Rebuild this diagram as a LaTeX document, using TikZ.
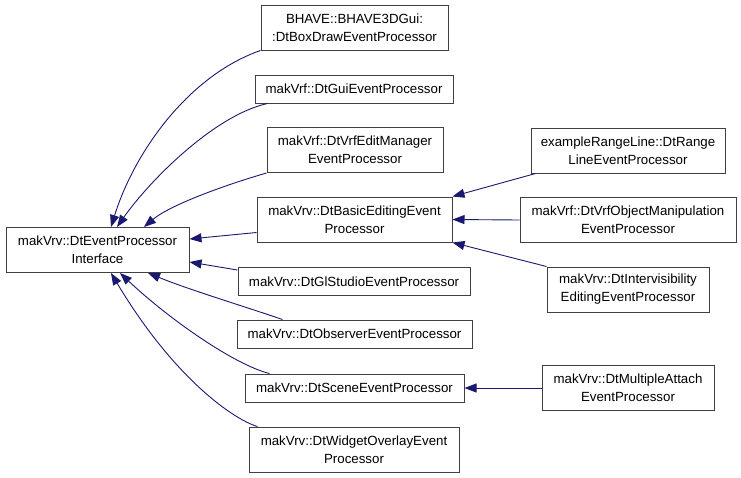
\documentclass[tikz,border=0pt]{standalone}
\usepackage{fontspec}
\setmainfont{Liberation Sans}
\usepackage{tikz}
\usetikzlibrary{arrows.meta, positioning}
\definecolor{edgeblue}{RGB}{25,25,112}

\begin{document}
\begin{tikzpicture}[
    x=1pt, y=-1pt,
    cls/.style={rectangle, draw=black!75, line width=1pt, fill=white, align=center,
                inner sep=0pt, font=\fontsize{13.3}{18}\selectfont},
    one/.style={cls, minimum height=28pt},  % 单行类框
    two/.style={cls, minimum height=45pt},  % 双行类框
    inherit/.style={-{Triangle[length=12pt, width=9pt]}, edgeblue, line width=0.9pt}
]
\useasboundingbox (0,0) rectangle (741,477);

% 基类
\node[two, minimum width=183pt] (iface) at (97.5,250) {makVrv::DtEventProcessor\\Interface};

% 第一层派生类
\node[two, minimum width=187pt] (bhave) at (354.5,27.5) {BHAVE::BHAVE3DGui:\\:DtBoxDrawEventProcessor};
\node[one, minimum width=198pt] (gui) at (354,89) {makVrf::DtGuiEventProcessor};
\node[two, minimum width=176pt] (vrfedit) at (355,150) {makVrf::DtVrfEditManager\\EventProcessor};
\node[two, minimum width=195pt] (basic) at (354.5,219.5) {makVrv::DtBasicEditingEvent\\Processor};
\node[one, minimum width=232pt] (glstudio) at (354,281.5) {makVrv::DtGlStudioEventProcessor};
\node[one, minimum width=235pt] (observer) at (354.5,334) {makVrv::DtObserverEventProcessor};
\node[one, minimum width=219pt] (scene) at (354.5,388) {makVrv::DtSceneEventProcessor};
\node[two, minimum width=210pt] (widget) at (354,449.5) {makVrv::DtWidgetOverlayEvent\\Processor};

% 第二层派生类
\node[two, minimum width=194pt] (range) at (628,150.5) {exampleRangeLine::DtRange\\LineEventProcessor};
\node[two, minimum width=216pt] (objmanip) at (628,220) {makVrf::DtVrfObjectManipulation\\EventProcessor};
\node[two, minimum width=162pt] (intervis) at (628,289.5) {makVrv::DtIntervisibility\\EditingEventProcessor};
\node[two, minimum width=172pt] (multi) at (628,388) {makVrv::DtMultipleAttach\\EventProcessor};

% 继承关系 (指向基类)
\draw[inherit] (bhave.south west) .. controls (190,75) and (135,150) .. ([xshift=13.5pt]iface.north);
\draw[inherit] ([xshift=13pt]gui.south west) .. controls (215,115) and (150,180) .. ([xshift=19.5pt]iface.north);
\draw[inherit] (vrfedit.south west) .. controls (225,185) and (170,205) .. ([xshift=46.5pt]iface.north);
\draw[inherit] ([yshift=-13pt]basic.west) -- ([yshift=11pt]iface.east);
\draw[inherit] ([yshift=11.5pt]glstudio.west) -- ([yshift=-12pt]iface.east);
\draw[inherit] ([xshift=46pt]observer.north west) .. controls (240,305) and (190,290) .. ([xshift=50.5pt]iface.south);
\draw[inherit] ([xshift=25pt]scene.north west) .. controls (235,365) and (170,320) .. ([xshift=22.5pt]iface.south);
\draw[inherit] ([xshift=9pt]widget.north west) .. controls (235,420) and (175,380) .. ([xshift=13.5pt]iface.south);

% 第二层继承
\draw[inherit] ([xshift=5pt]range.south west) -- (basic.north east);
\draw[inherit] (objmanip.west) -- (basic.east);
\draw[inherit] (intervis.north west) -- (basic.south east);
\draw[inherit] (multi.west) -- (scene.east);
\end{tikzpicture}
\end{document}
